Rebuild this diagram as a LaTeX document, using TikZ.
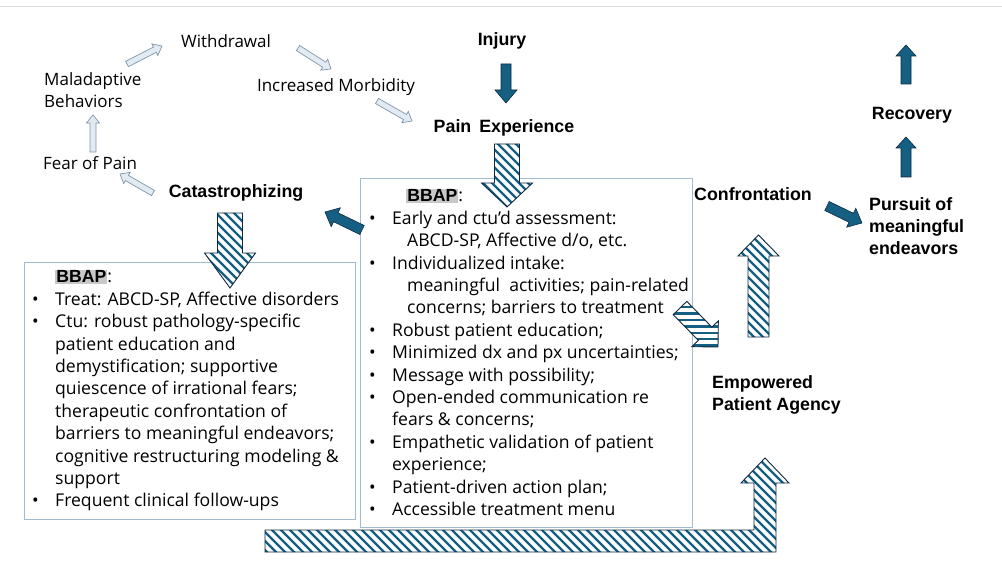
\documentclass[tikz,border=0pt]{standalone}
\usepackage{fontspec}
\setmainfont{Open Sans}
\newfontfamily\labelfont{Liberation Sans}
\usetikzlibrary{calc}
\definecolor{arrowfill}{RGB}{21,96,130}
\definecolor{arrowline}{RGB}{14,40,65}
\definecolor{boxline}{RGB}{160,188,208}
\definecolor{cyclefill}{RGB}{226,235,243}
\definecolor{cycleline}{RGB}{128,150,170}
\definecolor{hlgray}{RGB}{200,200,200}
\definecolor{rulegray}{RGB}{222,222,222}

% block arrow: [style]{tail}{tip}{half shaft}{half head}{head length}
\newcommand{\blockarrow}[6][]{%
  \coordinate (ah) at ($(#3)!#6!(#2)$);
  \draw[#1] ($(#2)!#4!90:(#3)$) -- ($(ah)!#4!90:(#3)$) -- ($(ah)!#5!90:(#3)$)
    -- (#3) -- ($(ah)!#5!-90:(#3)$) -- ($(ah)!#4!-90:(#3)$)
    -- ($(#2)!#4!-90:(#3)$) -- cycle;
}
\newcommand{\bbap}{{\setlength\fboxsep{1.2pt}\colorbox{hlgray}{\labelfont\bfseries BBAP}}:}

\begin{document}
\begin{tikzpicture}[x=1pt, y=-1pt,
    cycletext/.style={inner sep=0, font=\fontsize{17}{22}\selectfont, align=left},
    stage/.style={inner sep=0, font=\labelfont\bfseries\fontsize{17.8}{22}\selectfont, align=left},
    boxtext/.style={inner sep=0, anchor=north west, font=\fontsize{17.6}{22.4}\selectfont},
    infobox/.style={draw=boxline, fill=white, line width=0.9pt},
    pale/.style={draw=cycleline, fill=cyclefill, line width=0.7pt, line join=miter},
    solid arrow/.style={draw=arrowline, fill=arrowfill, line width=0.6pt},
    hatched/.style={draw=arrowline, line width=0.9pt, fill=white,
      path picture={\foreach \c in {-600,-591,...,1000}
        \draw[arrowfill, line width=2.3pt] (\c,0) -- ++(580,580);}},
    hatched flat/.style={draw=arrowline, line width=0.9pt, fill=white,
      path picture={\foreach \c in {0,6.4,...,567}
        \draw[arrowfill, line width=2.3pt] (0,\c) -- (1002,\c);}}]
  \useasboundingbox (0,0) rectangle (1002,567);
  \draw[rulegray, line width=1pt] (0,7) -- (1002,7);

  % vicious cycle
  \node[cycletext] (withdraw) at (226,41) {Withdrawal};
  \node[cycletext, anchor=west] (maladapt) at (44,90) {Maladaptive\\Behaviors};
  \node[cycletext] (morbid) at (336,87) {Increased Morbidity};
  \node[cycletext] (fear) at (90,163) {Fear of Pain};
  \node[stage] (catastro) at (236,193) {Catastrophizing};

  % main stages
  \node[stage] (injury) at (502,41) {Injury};
  \node[stage] (pain) at (504,128) {Pain\hspace{3pt} Experience};
  \node[stage] (recovery) at (912,115) {Recovery};
  \node[stage] (confront) at (753,194) {Confrontation};
  \node[stage, anchor=west] (pursuit) at (869,226) {Pursuit of\\meaningful\\endeavors};
  \node[stage, anchor=west] (agency) at (712,395) {Empowered\\Patient Agency};

  % treatment boxes
  \draw[infobox] (24,262) rectangle (355,519);
  \node[boxtext] (lefttxt) at (32,267) {\begin{tabular}{@{}p{23pt}@{}l@{}}
    & \bbap\\
    \textbullet & Treat: ABCD-SP, Affective disorders\\
    \textbullet & Ctu: robust pathology-specific\\
    & patient education and\\
    & demystification; supportive\\
    & quiescence of irrational fears;\\
    & therapeutic confrontation of\\
    & barriers to meaningful endeavors;\\
    & cognitive restructuring modeling \&\\
    & support\\
    \textbullet & Frequent clinical follow-ups
  \end{tabular}};
  \draw[infobox] (360,178) rectangle (692,527);
  \node[boxtext] (midtxt) at (369,186) {\begin{tabular}{@{}p{23pt}@{}l@{}}
    & \hspace*{14pt}\bbap\\
    \textbullet & Early and ctu’d assessment:\\
    & \hspace*{15pt}ABCD-SP, Affective d/o, etc.\\
    \textbullet & Individualized intake:\\
    & \hspace*{15pt}meaningful\ \ activities; pain-related\\
    & \hspace*{15pt}concerns; barriers to treatment\\
    \textbullet & Robust patient education;\\
    \textbullet & Minimized dx and px uncertainties;\\
    \textbullet & Message with possibility;\\
    \textbullet & Open-ended communication re\\
    & fears \& concerns;\\
    \textbullet & Empathetic validation of patient\\
    & experience;\\
    \textbullet & Patient-driven action plan;\\
    \textbullet & Accessible treatment menu
  \end{tabular}};

  % arrow ends
  \coordinate (c1a) at (153,193); \coordinate (c1b) at (120,174);
  \coordinate (c2a) at (93,152);  \coordinate (c2b) at (93,115);
  \coordinate (c3a) at (127,64);  \coordinate (c3b) at (162,46);
  \coordinate (c4a) at (298,48);  \coordinate (c4b) at (331,69);
  \coordinate (c5a) at (377,101); \coordinate (c5b) at (412,121);
  \coordinate (injA) at (506,64);  \coordinate (injB) at (506,103);
  \coordinate (backA) at (362,230); \coordinate (backB) at (325,212);
  \coordinate (purA) at (827,206);  \coordinate (purB) at (862,223);
  \coordinate (recA) at (906,177);  \coordinate (recB) at (906,137);
  \coordinate (upA) at (906,84);    \coordinate (upB) at (906,45);
  \coordinate (painA) at (507,144); \coordinate (painB) at (507,207);
  \coordinate (catA) at (230,213);  \coordinate (catB) at (230,288);
  \coordinate (diagA) at (680,308); \coordinate (diagB) at (718,347);
  \coordinate (confA) at (758.5,337); \coordinate (confB) at (758.5,235);

  % pale cycle arrows
  \blockarrow[pale]{c1a}{c1b}{3pt}{6.5pt}{8pt}
  \blockarrow[pale]{c2a}{c2b}{3pt}{6.5pt}{8pt}
  \blockarrow[pale]{c3a}{c3b}{3pt}{6.5pt}{8pt}
  \blockarrow[pale]{c4a}{c4b}{3pt}{6.5pt}{8pt}
  \blockarrow[pale]{c5a}{c5b}{3pt}{6.5pt}{8pt}

  % solid arrows
  \blockarrow[solid arrow]{injA}{injB}{5pt}{11pt}{13pt}
  \blockarrow[solid arrow]{backA}{backB}{5pt}{10.5pt}{12pt}
  \blockarrow[solid arrow]{purA}{purB}{5pt}{10.5pt}{12pt}
  \blockarrow[solid arrow]{recA}{recB}{5pt}{10pt}{11pt}
  \blockarrow[solid arrow]{upA}{upB}{5pt}{10pt}{11pt}

  % hatched arrows
  \blockarrow[hatched]{painA}{painB}{12.5pt}{25.5pt}{24pt}
  \blockarrow[hatched]{catA}{catB}{12.5pt}{25.5pt}{35pt}
  \blockarrow[hatched flat]{diagA}{diagB}{9.5pt}{18.5pt}{18.5pt}
  \blockarrow[hatched]{confA}{confB}{10.5pt}{20.5pt}{21pt}
  \draw[hatched] (265,530) -- (754,530) -- (754,483) -- (741,483) -- (765,458)
    -- (789,483) -- (776,483) -- (776,552) -- (265,552) -- cycle;
\end{tikzpicture}
\end{document}
